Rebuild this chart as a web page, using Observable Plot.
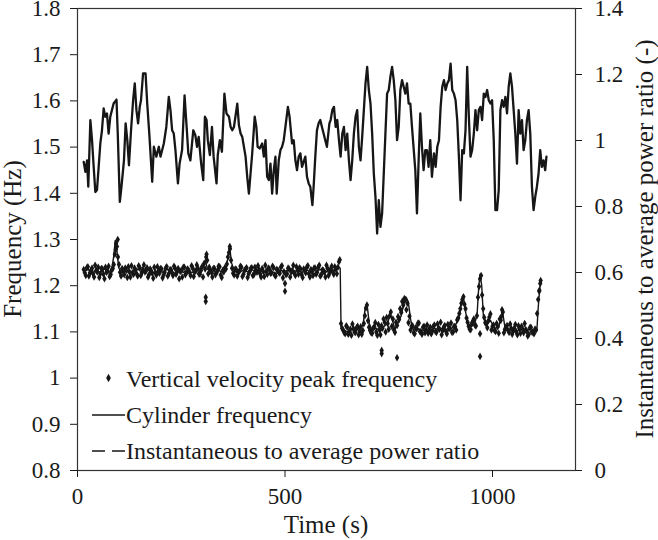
<!DOCTYPE html>
<html><head><meta charset="utf-8">
<script src="https://cdn.jsdelivr.net/npm/d3@7"></script>
<script src="https://cdn.jsdelivr.net/npm/@observablehq/plot@0.6"></script>
<style>
body{margin:0;background:#fff}
svg{display:block}
#chart svg, #chart svg text{font-family:"Liberation Serif","Times New Roman",serif !important}
</style>
</head><body><div id="chart"></div>
<script>
// ---- Instantaneous to average power ratio (right axis) ----
const powerTime = [
15,19,23,26,31,35,39,43,47,51, 55,59,63,67,71,75,79,83,87,94,
97,102,106,112,116,120,124,129,134,138, 142,146,150,153,158,164,168,173,180,184,
190,196,200,208,214,220,224,228,232,236, 242,246,252,258,263,267,272,279,284,288,
292,298,303,307,311,314,319,324,328,335, 338,343,348,354,359,365,369,373,377,385,
389,393,397,405,409,413,417,421,427,431, 434,439,445,449,453,457,461,465,469,473,
477,480,485,489,493,497,501,507,511,517, 521,525,529,533,537,541,549,553,557,561,
566,569,573,577,581,585,589,593,597,601, 607,
610,614,618,622,626,630,634,638,642,646, 650,654,658,662,666,670,674,678,682,686,
690,694,698,702,706,710,714,718,722,726, 730,734,738,742,746,750,754,758,762,766,
770,774,778,782,786,790,794,798,802,806, 814,818,822,826,830,834,838,842,846,850,
854,859,863,867,871,875,879,883,887,891, 895,899,903,907,911,915,919,923,927,931,
935,939,943,947,951,955,959,963,967,971, 975,979,983,987,991,995,999,1003,1007,1011,
1015,1019,1023,1027,1031,1035,1039,1043,1047,1051, 1055,1059,1063,1067,1071,1075,1079,1083,1087,1091,
1095,1099,1103,1107,1111,1115,1119,1123,1127, 1130
];
const powerRatio = [
0.935,0.905,0.940,0.860,1.062,1.001,0.920,0.844,0.850,0.920, 0.991,1.031,1.097,1.072,1.082,1.021,1.072,1.092,1.112,1.124,
1.021,0.814,0.860,0.940,1.052,1.001,0.925,1.031,1.122,1.173, 1.092,1.052,1.102,1.122,1.203,1.203,1.112,1.021,0.875,0.981,
0.951,0.981,0.951,0.991,1.041,1.132,1.092,1.031,1.021,0.971, 0.870,0.930,0.971,1.137,1.041,0.961,0.940,1.031,1.016,0.981,
1.011,0.930,0.880,1.072,1.062,1.001,0.956,1.041,0.951,0.870, 0.956,1.001,0.966,1.142,1.082,1.072,1.041,1.031,1.041,1.112,
1.046,1.021,1.011,0.951,0.890,0.839,0.900,0.961,1.072,1.041, 0.981,0.976,0.991,0.951,1.001,0.890,0.880,0.930,0.839,0.910,
0.951,0.839,0.940,0.971,0.981,1.001,1.041,1.102,1.072,0.991, 1.001,0.940,0.910,0.951,0.961,0.920,0.951,0.890,0.870,0.860,
0.804,0.860,0.951,1.031,1.052,1.062,1.041,1.021,1.001,0.981, 1.052,
1.062,1.092,1.102,1.041,1.062,1.001,0.951,1.021,1.041,0.971, 1.021,0.940,0.880,0.940,1.021,1.072,1.092,0.981,0.940,1.011,
1.092,1.173,1.223,1.153,1.112,1.021,0.900,0.829,0.718,0.819, 0.738,0.779,0.900,1.021,1.142,1.153,1.193,1.223,1.183,1.122,
1.001,1.041,1.153,1.183,1.163,1.142,1.173,1.112,1.112,1.041, 0.910,0.779,0.940,1.082,0.981,0.910,0.971,0.971,0.920,1.001,
0.890,0.961,0.920,0.981,1.001,1.102,1.163,1.183,1.153,1.173, 1.183,1.233,1.153,1.142,1.122,1.062,0.951,0.819,0.971,0.961,
1.031,1.223,1.072,0.951,0.971,1.021,1.092,1.031,1.092,1.102, 1.062,1.142,1.132,1.153,1.122,1.112,1.122,1.001,0.789,0.789,
0.850,1.092,1.122,1.102,1.132,1.082,1.163,1.203,1.163,1.092, 1.021,0.930,1.092,1.021,1.062,0.971,1.001,1.062,1.092,1.021,
0.860,0.789,0.829,0.860,0.900,0.971,0.920,0.940,0.910, 0.951
];

// ---- Cylinder frequency (Hz) [time, freq] ----
const cylinderFreq = [
[15,1.230],[25,1.236],[35,1.226],[45,1.233],[55,1.229],[65,1.236],[75,1.228],[82,1.234],[87,1.262],[91,1.298],
[95,1.276],[99,1.240],[105,1.228],[115,1.234],[125,1.227],[135,1.232],[145,1.236],[155,1.229],[165,1.238],[175,1.231],
[185,1.226],[195,1.233],[205,1.229],[215,1.236],[225,1.230],[235,1.227],[245,1.234],[255,1.229],[265,1.235],[275,1.228],
[285,1.232],[295,1.237],[303,1.240],[308,1.256],[313,1.236],[320,1.230],[330,1.226],[340,1.233],[350,1.229],[358,1.240],
[363,1.262],[367,1.282],[371,1.250],[378,1.231],[390,1.228],[400,1.234],[410,1.230],[420,1.236],[430,1.227],[440,1.233],
[450,1.229],[460,1.236],[470,1.230],[480,1.226],[490,1.233],[500,1.231],[510,1.236],[520,1.229],[530,1.234],[540,1.228],
[550,1.235],[560,1.231],[570,1.226],[580,1.233],[590,1.237],[600,1.230],[610,1.235],[620,1.232],[628,1.240],[633,1.238],
[635,1.112],[640,1.105],[650,1.100],[660,1.106],[670,1.102],[680,1.108],[688,1.115],[693,1.150],[698,1.158],[703,1.118],
[710,1.104],[720,1.108],[730,1.101],[740,1.113],[748,1.120],[753,1.140],[758,1.128],[765,1.106],[772,1.118],[780,1.135],
[786,1.160],[792,1.175],[797,1.165],[803,1.125],[810,1.103],[820,1.107],[830,1.101],[840,1.106],[850,1.103],[860,1.108],
[870,1.104],[880,1.109],[890,1.102],[900,1.107],[910,1.112],[918,1.130],[924,1.160],[929,1.178],[934,1.150],[940,1.118],
[950,1.112],[958,1.120],[963,1.140],[967,1.200],[970,1.225],[974,1.200],[978,1.135],[985,1.115],[995,1.125],[1005,1.108],
[1015,1.110],[1020,1.130],[1024,1.145],[1030,1.110],[1040,1.104],[1050,1.106],[1060,1.102],[1070,1.107],[1080,1.103],[1090,1.106],
[1100,1.101],[1107,1.104],[1110,1.150],[1113,1.185],[1116,1.212]
];

// ---- Vertical velocity peak frequency (Hz) [time, freq] ----
const peakFreqA = [
[15,1.235],[20,1.222],[25,1.241],[30,1.228],[35,1.238],[40,1.219],[45,1.233],[50,1.240],[55,1.226],[60,1.236],
[65,1.215],[70,1.229],[75,1.242],[80,1.224],[85,1.237],[90,1.268],[95,1.285],[100,1.246],[105,1.221],[110,1.232],
[115,1.238],[120,1.218],[125,1.230],[130,1.243],[135,1.225],[140,1.234],[145,1.221],[150,1.239],[155,1.228],[160,1.245],
[165,1.232],[170,1.219],[175,1.236],[180,1.227],[185,1.240],[190,1.223],[195,1.231],[200,1.237],[205,1.217],[210,1.229],
[215,1.241],[220,1.226],[225,1.235],[230,1.222],[235,1.238],[240,1.230],[245,1.215],[250,1.233],[255,1.240],[260,1.224],
[265,1.236],[270,1.229],[275,1.243],[280,1.220],[285,1.232],[290,1.238],[295,1.225],[300,1.241],[305,1.248],[310,1.262],
[315,1.226],[320,1.234],[325,1.219],[330,1.237],[335,1.228],[340,1.242],[345,1.223],[350,1.233],[355,1.239],[360,1.247],
[365,1.272],[370,1.255],[375,1.227],[380,1.236],[385,1.221],[390,1.232],[395,1.240],[400,1.225],[405,1.236],[410,1.218],
[415,1.231],[420,1.239],[425,1.224],[430,1.233],[435,1.243],[440,1.226],[445,1.237],[450,1.220],[455,1.231],[460,1.238],
[465,1.227],[470,1.242],[475,1.223],[480,1.235],[485,1.229],[490,1.240],[495,1.217],[500,1.205],[505,1.226],[510,1.236],
[515,1.230],[520,1.244],[525,1.222],[530,1.233],[535,1.239],[540,1.224],[545,1.236],[550,1.228],[555,1.243],[560,1.219],
[565,1.231],[570,1.238],[575,1.225],[580,1.240],[585,1.221],[590,1.234],[595,1.229],[600,1.244],[605,1.222],[610,1.236],
[615,1.230],[620,1.241],[625,1.226],[630,1.252],
[635,1.118],[640,1.104],[645,1.096],[650,1.110],[655,1.101],[660,1.093],[665,1.107],[670,1.099],[675,1.112],[680,1.102],
[685,1.095],[690,1.118],[695,1.152],[700,1.124],[705,1.103],[710,1.097],[715,1.111],[720,1.100],[725,1.116],[730,1.094],
[735,1.108],[740,1.121],[745,1.131],[750,1.106],[755,1.143],[760,1.128],[765,1.099],[770,1.114],[775,1.127],[780,1.142],
[785,1.158],[790,1.170],[795,1.162],[800,1.134],[805,1.112],[810,1.098],[815,1.109],[820,1.118],[825,1.101],[830,1.095],
[835,1.112],[840,1.104],[845,1.097],[850,1.110],[855,1.102],[860,1.115],[865,1.099],[870,1.108],[875,1.121],[880,1.103],
[885,1.114],[890,1.096],[895,1.107],[900,1.119],[905,1.100],[910,1.111],[915,1.126],[920,1.140],[925,1.162],[930,1.176],
[935,1.150],[940,1.121],[945,1.106],[950,1.118],[955,1.128],[960,1.113],[965,1.175],[970,1.215],[975,1.180],[980,1.131],
[985,1.117],[990,1.124],[995,1.139],[1000,1.112],[1005,1.103],[1010,1.118],[1015,1.097],[1020,1.125],[1025,1.143],[1030,1.106],
[1035,1.114],[1040,1.099],[1045,1.108],[1050,1.102],[1055,1.116],[1060,1.094],[1065,1.107],[1070,1.112],[1075,1.098],[1080,1.105],
[1085,1.091],[1090,1.109],[1095,1.100],[1100,1.096],[1105,1.104],[1110,1.170],[1115,1.205]
];
const peakFreqB = [
[17.5,1.228],[22.5,1.239],[27.5,1.221],[32.5,1.233],[37.5,1.226],[42.5,1.244],[47.5,1.230],[52.5,1.218],[57.5,1.237],[62.5,1.225],
[67.5,1.240],[72.5,1.232],[77.5,1.220],[82.5,1.234],[87.5,1.246],[92.5,1.279],[97.5,1.262],[102.5,1.229],[107.5,1.237],[112.5,1.224],
[117.5,1.233],[122.5,1.241],[127.5,1.219],[132.5,1.228],[137.5,1.238],[142.5,1.226],[147.5,1.243],[152.5,1.222],[157.5,1.235],[162.5,1.230],
[167.5,1.239],[172.5,1.224],[177.5,1.232],[182.5,1.216],[187.5,1.229],[192.5,1.241],[197.5,1.227],[202.5,1.236],[207.5,1.223],[212.5,1.238],
[217.5,1.221],[222.5,1.234],[227.5,1.229],[232.5,1.242],[237.5,1.225],[242.5,1.237],[247.5,1.231],[252.5,1.219],[257.5,1.240],[262.5,1.228],
[267.5,1.234],[272.5,1.222],[277.5,1.238],[282.5,1.230],[287.5,1.245],[292.5,1.226],[297.5,1.233],[302.5,1.219],[307.5,1.236],[312.5,1.255],
[317.5,1.240],[322.5,1.229],[327.5,1.237],[332.5,1.224],[337.5,1.233],[342.5,1.241],[347.5,1.218],[352.5,1.230],[357.5,1.236],[362.5,1.262],
[367.5,1.280],[372.5,1.238],[377.5,1.223],[382.5,1.235],[387.5,1.228],[392.5,1.242],[397.5,1.220],[402.5,1.233],[407.5,1.239],[412.5,1.226],
[417.5,1.237],[422.5,1.222],[427.5,1.240],[432.5,1.229],[437.5,1.234],[442.5,1.219],[447.5,1.231],[452.5,1.244],[457.5,1.225],[462.5,1.236],
[467.5,1.228],[472.5,1.239],[477.5,1.221],[482.5,1.234],[487.5,1.227],[492.5,1.243],[497.5,1.230],[502.5,1.224],[507.5,1.238],[512.5,1.219],
[517.5,1.233],[522.5,1.227],[527.5,1.241],[532.5,1.225],[537.5,1.236],[542.5,1.218],[547.5,1.232],[552.5,1.240],[557.5,1.226],[562.5,1.235],
[567.5,1.222],[572.5,1.238],[577.5,1.229],[582.5,1.244],[587.5,1.224],[592.5,1.233],[597.5,1.219],[602.5,1.237],[607.5,1.228],[612.5,1.242],
[617.5,1.225],[622.5,1.236],[627.5,1.240],
[637.5,1.108],[642.5,1.099],[647.5,1.113],[652.5,1.095],[657.5,1.106],[662.5,1.117],[667.5,1.100],[672.5,1.109],[677.5,1.094],[682.5,1.111],
[687.5,1.103],[692.5,1.135],[697.5,1.158],[702.5,1.110],[707.5,1.098],[712.5,1.108],[717.5,1.120],[722.5,1.093],[727.5,1.105],[732.5,1.113],
[737.5,1.128],[742.5,1.100],[747.5,1.118],[752.5,1.135],[757.5,1.112],[762.5,1.104],[767.5,1.121],[772.5,1.133],[777.5,1.150],[782.5,1.166],
[787.5,1.172],[792.5,1.148],[797.5,1.120],[802.5,1.104],[807.5,1.113],[812.5,1.096],[817.5,1.107],[822.5,1.119],[827.5,1.101],[832.5,1.110],
[837.5,1.098],[842.5,1.115],[847.5,1.105],[852.5,1.096],[857.5,1.112],[862.5,1.101],[867.5,1.117],[872.5,1.106],[877.5,1.094],[882.5,1.110],
[887.5,1.102],[892.5,1.116],[897.5,1.108],[902.5,1.099],[907.5,1.112],[912.5,1.104],[917.5,1.130],[922.5,1.150],[927.5,1.170],[932.5,1.160],
[937.5,1.130],[942.5,1.112],[947.5,1.105],[952.5,1.123],[957.5,1.115],[962.5,1.135],[967.5,1.198],[972.5,1.222],[977.5,1.150],[982.5,1.120],
[987.5,1.109],[992.5,1.132],[997.5,1.104],[1002.5,1.115],[1007.5,1.101],[1012.5,1.111],[1017.5,1.128],[1022.5,1.135],[1027.5,1.098],[1032.5,1.110],
[1037.5,1.103],[1042.5,1.117],[1047.5,1.095],[1052.5,1.108],[1057.5,1.100],[1062.5,1.113],[1067.5,1.097],[1072.5,1.106],[1077.5,1.118],[1082.5,1.102],
[1087.5,1.095],[1092.5,1.110],[1097.5,1.099],[1102.5,1.106],[1107.5,1.140],[1112.5,1.188]
];
const peakFreqIsolated = [
[93,1.292],[97,1.300],[309,1.175],[309,1.166],[311,1.268],[367,1.285],[500,1.188],[632,1.256],
[733,1.060],[733,1.053],[770,1.044],[970,1.096],[970,1.047],[1023,1.148],[1113,1.190],[1116,1.211]
];

const freqTicks = [0.8,0.9,1,1.1,1.2,1.3,1.4,1.5,1.6,1.7,1.8];
const ratioTicks = [0,0.2,0.4,0.6,0.8,1,1.2,1.4];
const timeTicks = [0,500,1000];
const titles = {x:"Time (s)", yLeft:"Frequency (Hz)", yRight:"Instantaneous to average power ratio (-)"};
const legendLabels = ["Vertical velocity peak frequency","Cylinder frequency","Instantaneous to average power ratio"];

// map the right-axis ratio (0..1.4) onto the left-axis frequency range (0.8..1.8)
const ratioToFreq = r => 0.8 + r / 1.4;
const freqToRatio = f => (f - 0.8) * 1.4;
const power = powerTime.map((t, i) => ({t, f: ratioToFreq(powerRatio[i])}));
const peakDots = peakFreqA.concat(peakFreqB, peakFreqIsolated);
const fmt = v => String(+(+v).toFixed(1));

const W = 658, H = 540, ML = 77, MR = 83, MT = 8, MB = 70;
const FONT = '"Liberation Serif","Times New Roman",serif';
const INK = "#161616";

const svg = Plot.plot({
  width: W, height: H,
  marginLeft: ML, marginRight: MR, marginTop: MT, marginBottom: MB,
  style: {fontFamily: FONT, fontSize: "23px", color: "#1a1a1a", background: "#fff", overflow: "visible"},
  x: {domain: [0, 1200]},
  y: {domain: [0.8, 1.8]},
  marks: [
    Plot.frame({stroke: "#333", strokeWidth: 1.2}),
    Plot.axisX({ticks: timeTicks, tickSize: 7, tickPadding: 10, tickFormat: d => String(d), label: null}),
    Plot.axisY({anchor: "left", ticks: freqTicks, tickSize: 7, tickPadding: 10, tickFormat: fmt, label: null}),
    Plot.axisY({anchor: "right", ticks: ratioTicks.map(ratioToFreq), tickSize: 6, tickPadding: 13,
                tickFormat: v => fmt(freqToRatio(v)), label: null}),
    Plot.line(power, {x: "t", y: "f", stroke: INK, strokeWidth: 2.3, strokeLinejoin: "round"}),
    Plot.line(cylinderFreq, {x: d => d[0], y: d => d[1], stroke: INK, strokeWidth: 1.4}),
    Plot.dot(peakDots, {x: d => d[0], y: d => d[1], symbol: "diamond", r: 2.3, fill: INK, stroke: "none"})
  ]
});
document.getElementById("chart").append(svg);

// axis titles and in-plot legend
const s = d3.select(svg);
const g = s.append("g").attr("fill", "#1a1a1a").attr("font-size", 25).attr("text-anchor", "middle");
g.append("text").attr("x", ML + (W - ML - MR) / 2).attr("y", H - 7).text(titles.x);
g.append("text").attr("transform", `translate(21,${MT + (H - MT - MB) / 2}) rotate(-90)`).text(titles.yLeft);
g.append("text").attr("transform", `translate(${W - 5},${MT + (H - MT - MB) / 2}) rotate(-90)`).text(titles.yRight);

const lg = s.append("g").attr("transform", `translate(${ML},${H - MB})`);
const lx0 = 15, lx1 = 48, tx = 49;
const rows = [-83, -47, -11];
lg.append("path").attr("d", d3.symbol(d3.symbolDiamond, 20)()).attr("fill", INK)
  .attr("transform", `translate(${(lx0 + lx1) / 2},${rows[0] - 9})`);
lg.append("line").attr("x1", lx0).attr("x2", lx1).attr("y1", rows[1] - 8).attr("y2", rows[1] - 8)
  .attr("stroke", INK).attr("stroke-width", 1.4);
lg.append("line").attr("x1", lx0).attr("x2", lx1).attr("y1", rows[2] - 8).attr("y2", rows[2] - 8)
  .attr("stroke", INK).attr("stroke-width", 1.6).attr("stroke-dasharray", "13,7");
legendLabels.forEach((t, i) => {
  lg.append("text").attr("x", tx).attr("y", rows[i]).attr("text-anchor", "start")
    .attr("font-size", 24).attr("fill", "#1a1a1a").text(t);
});
</script>
</body></html>
